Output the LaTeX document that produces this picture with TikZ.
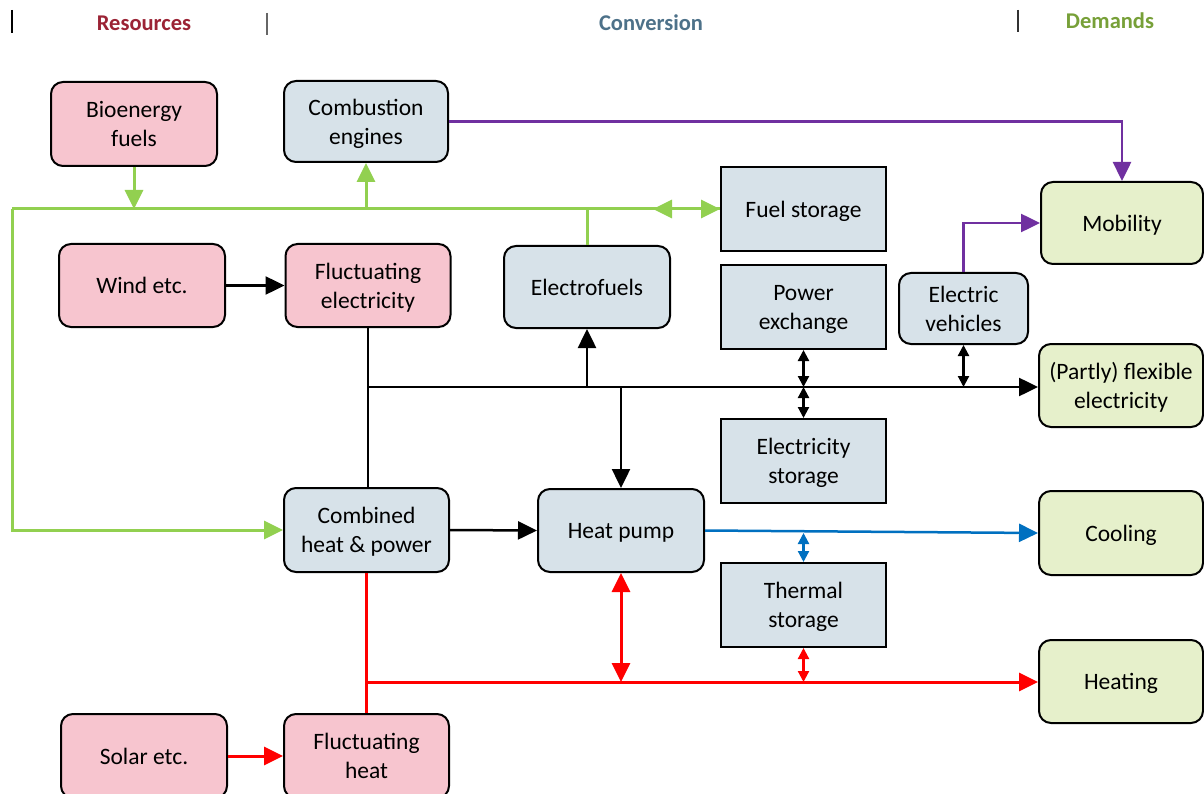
\documentclass[tikz,border=0pt]{standalone}
\usepackage{fontspec}
\setmainfont{Carlito}
\usetikzlibrary{arrows.meta,calc}
\definecolor{pinkf}{HTML}{F7C5CF}
\definecolor{grayf}{HTML}{D7E2E9}
\definecolor{greenf}{HTML}{E6F0CB}
\definecolor{gline}{HTML}{92D050}
\definecolor{purp}{HTML}{7030A0}
\definecolor{bluel}{HTML}{0070C0}
\definecolor{redl}{HTML}{FF0000}
\definecolor{resc}{HTML}{9B2335}
\definecolor{convc}{HTML}{4D7189}
\definecolor{demc}{HTML}{77A038}
\tikzset{
  boxbase/.style={draw=black, line width=2pt, align=center, inner sep=2pt,
    font=\fontsize{23.5}{29}\selectfont, text=black, text depth=0pt},
  pinkbox/.style={boxbase, fill=pinkf, rounded corners=12pt},
  graybox/.style={boxbase, fill=grayf, rounded corners=12pt},
  sqbox/.style={boxbase, fill=grayf},
  demandbox/.style={boxbase, fill=greenf, rounded corners=12pt},
  bigtip/.tip={Triangle[length=19pt,width=18pt]},
  smalltip/.tip={Triangle[length=11pt,width=11pt]},
  greenline/.style={draw=gline, line width=3pt},
  greenarr/.style={greenline, -{bigtip}},
  blackline/.style={draw=black, line width=2.5pt},
  blackarr/.style={blackline, -{bigtip}},
  smalldbl/.style={draw=black, line width=2.2pt, {smalltip}-{smalltip}},
  purparr/.style={draw=purp, line width=2.5pt, -{bigtip}},
  bluearr/.style={draw=bluel, line width=2.5pt, -{bigtip}},
  redline/.style={draw=redl, line width=3pt},
  redarr/.style={redline, -{bigtip}},
  header/.style={font=\bfseries\fontsize{22.5}{26}\selectfont},
  sep/.style={line width=1.5pt}
}
\begin{document}
\begin{tikzpicture}[x=1pt,y=-1pt]
\useasboundingbox[fill=white] (0,0) rectangle (1204,794);
% headers
\node[header, text=resc] (hres) at (144,23) {Resources};
\node[header, text=convc] (hconv) at (651,23) {Conversion};
\node[header, text=demc] (hdem) at (1110,21) {Demands};
\draw[sep, black] (12,10) -- (12,33);
\draw[sep, black!60] (267,13) -- (267,35);
\draw[sep, black!80] (1018,10) -- (1018,32);
% boxes
\node[pinkbox, minimum width=166pt, minimum height=84pt] (bio) at (134,124) {Bioenergy\\fuels};
\node[graybox, minimum width=164pt, minimum height=81pt] (comb) at (366,121.5) {Combustion\\engines};
\node[pinkbox, minimum width=166pt, minimum height=83pt] (wind) at (142,285.5) {Wind etc.};
\node[pinkbox, minimum width=165pt, minimum height=83pt] (felec) at (368,285.5) {Fluctuating\\electricity};
\node[graybox, minimum width=166pt, minimum height=82pt] (efuel) at (587,287) {Electrofuels};
\node[sqbox, minimum width=165pt, minimum height=84pt] (fuels) at (803.5,209) {Fuel storage};
\node[sqbox, minimum width=165pt, minimum height=84pt] (pex) at (803.5,307) {Power\\exchange};
\node[graybox, minimum width=129pt, minimum height=71pt] (ev) at (963.5,308.5) {Electric\\vehicles};
\node[demandbox, minimum width=162pt, minimum height=82pt] (mob) at (1122,223) {Mobility};
\node[demandbox, minimum width=164pt, minimum height=83pt] (flex) at (1121,385.5) {(Partly) flexible\\electricity};
\node[sqbox, minimum width=165pt, minimum height=84pt] (estor) at (803.5,461) {Electricity\\storage};
\node[graybox, minimum width=165pt, minimum height=84pt] (chp) at (366.5,530) {Combined\\heat \& power};
\node[graybox, minimum width=166pt, minimum height=83pt] (hp) at (621,530.5) {Heat pump};
\node[demandbox, minimum width=164pt, minimum height=84pt] (cool) at (1121,533) {Cooling};
\node[sqbox, minimum width=165pt, minimum height=84pt] (tstor) at (803.5,605) {Thermal\\storage};
\node[demandbox, minimum width=164pt, minimum height=83pt] (heat) at (1121,681.5) {Heating};
\node[pinkbox, minimum width=166pt, minimum height=84pt] (solar) at (144,756) {Solar etc.};
\node[pinkbox, minimum width=165pt, minimum height=84pt] (fheat) at (366.5,756) {Fluctuating\\heat};
% coordinates
\coordinate (gTL) at (12,209);
\coordinate (gdbl) at (653,209);
\coordinate (eL) at (368,387);
\coordinate (rL) at (367,682);
% green fuel network
\draw[greenline] (gTL) -- (fuels.west);
\draw[greenline, {bigtip}-{bigtip}] (gdbl) -- (fuels.west);
\draw[greenarr] (gTL) |- (chp.west);
\draw[greenarr] (bio.south) -- (bio.south |- gTL);
\draw[greenarr] (comb.south |- gTL) -- (comb.south);
\draw[greenline] (efuel.north) -- (efuel.north |- gTL);
% electricity
\draw[blackarr] (wind.east) -- (felec.west);
\draw[blackline] (felec.south) -- (felec.south |- chp.north);
\draw[blackarr] (eL) -- (flex.west |- eL);
\draw[blackarr] (efuel.south |- eL) -- (efuel.south);
\draw[blackarr] (hp.north |- eL) -- (hp.north);
\draw[smalldbl] (pex.south) -- (pex.south |- eL);
\draw[smalldbl] (estor.north |- eL) -- (estor.north);
\draw[smalldbl] (ev.south) -- (ev.south |- eL);
\draw[blackarr] (chp.east) -- (hp.west);
% mobility
\draw[purparr] (comb.east) -| (mob.north);
\draw[purparr] (ev.north) |- (mob.west);
% cooling
\draw[bluearr] (hp.east) -- (cool.west);
\draw[smalldbl, draw=bluel, fill=bluel] (tstor.north |- cool.west) -- (tstor.north);
% heat
\draw[redline] (chp.south) -- (chp.south |- fheat.north);
\draw[redarr] (rL) -- (heat.west |- rL);
\draw[redarr] (solar.east) -- (fheat.west);
\draw[redline, {bigtip}-{bigtip}] (hp.south) -- (hp.south |- rL);
\draw[smalldbl, draw=redl, fill=redl] (tstor.south) -- (tstor.south |- rL);
\end{tikzpicture}
\end{document}
